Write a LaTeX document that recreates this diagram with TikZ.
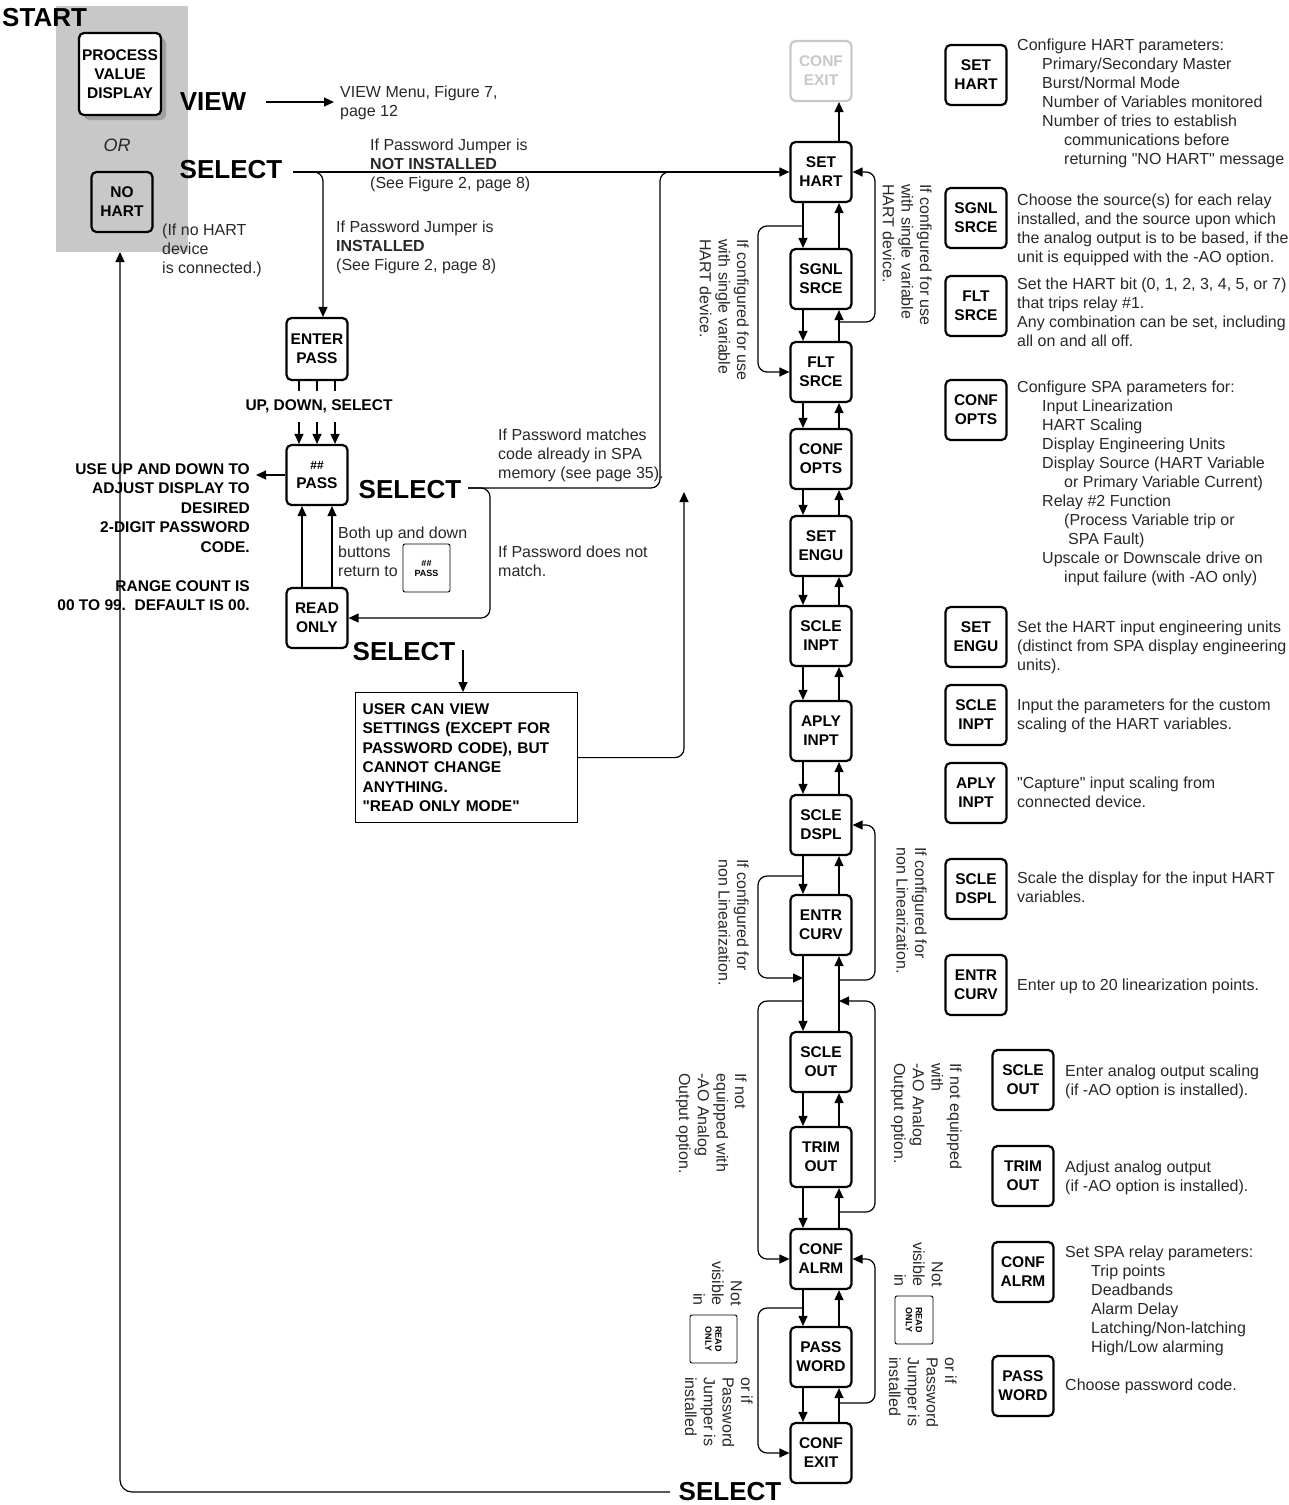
\documentclass[tikz,border=0pt]{standalone}
\usepackage{fontspec}
\setmainfont{Liberation Sans}
\usetikzlibrary{arrows.meta}
\definecolor{panelgray}{RGB}{200,200,200}
\definecolor{shadowgray}{RGB}{160,160,160}
\definecolor{txtgray}{RGB}{40,40,40}
\newcommand{\dq}{\textquotedbl}
\begin{document}
\begin{tikzpicture}[x=1pt,y=-1pt,
  >={Triangle[length=10pt,width=9pt]},
  conn/.style={line width=1.2pt},
  keybox/.style={draw,line width=2.2pt,rounded corners=5pt,minimum width=61pt,minimum height=60pt,inner sep=0pt,align=center,font=\fontsize{15.5}{19}\selectfont\bfseries},
  desc/.style={anchor=north west,inner sep=0pt,align=left,font=\fontsize{16}{19}\selectfont,text=txtgray},
  big/.style={inner sep=0pt,font=\fontsize{26}{30}\selectfont\bfseries},
  vnote/.style={rotate=-90,anchor=north west,inner sep=0pt,align=left,font=\fontsize{16}{18.7}\selectfont,text=txtgray},
  tiny/.style={draw,line width=0.9pt,rounded corners=2pt,inner sep=0pt,align=center,font=\fontsize{9}{10}\selectfont\bfseries},
  boldnote/.style={inner sep=0pt,font=\fontsize{15.5}{19.5}\selectfont\bfseries}
]
\useasboundingbox (0,0) rectangle (1289,1505);

% ---------- left start panel ----------
\node[fill=panelgray,anchor=north west,minimum width=132pt,minimum height=246pt,inner sep=0pt] (panel) at (56,6) {};
\node[big,anchor=west] (start) at (2,18) {START};
\fill[shadowgray,rounded corners=5pt] (84,38) rectangle (166,120);
\node[keybox,fill=white,minimum width=82pt,minimum height=82pt] (pvd) at (120,74) {PROCESS\\VALUE\\DISPLAY};
\node[font=\fontsize{18}{20}\selectfont\itshape,text=txtgray,inner sep=0pt] (or) at (117,145) {OR};
\node[keybox] (nohart) at (122,202) {NO\\HART};
\node[desc] (nohartnote) at (162,224) {(If no HART\\device\\is connected.)};

\node[big] (view) at (213,102) {VIEW};
\node[desc] (viewmenu) at (340,86) {VIEW Menu, Figure 7,\\page 12};
\draw[conn,->,shorten <=20pt,shorten >=6pt] (view.east) -- (viewmenu.west |- view.east);

\node[big] (sel1) at (231,170) {SELECT};
\node[desc] (ni) at (370,139) {If Password Jumper is\\\textbf{NOT INSTALLED}\\(See Figure 2, page 8)};
\node[desc] (inst) at (336,221) {If Password Jumper is\\\textbf{INSTALLED}\\(See Figure 2, page 8)};

% ---------- password section ----------
\node[keybox,minimum height=62pt] (enterpass) at (317,349) {ENTER\\PASS};
\node[boldnote] (uds) at (319,406) {UP, DOWN, SELECT};
\node[keybox] (pass) at (317,475) {{\fontsize{12}{14}\selectfont\#\#}\\PASS};
\node[keybox] (readonly) at (317,618) {READ\\ONLY};
\foreach \dx in {-18,0,18} {
  \draw[conn] ([xshift=\dx pt]enterpass.south) -- ++(0,10);
  \draw[conn,->] ([xshift=\dx pt]pass.north) ++(0,-22) -- ([xshift=\dx pt]pass.north);
}
\node[boldnote,anchor=north east,align=right] (usetext) at (250,463) {USE UP AND DOWN TO\\ADJUST DISPLAY TO\\DESIRED\\2-DIGIT PASSWORD\\CODE.\\[19.5pt]RANGE COUNT IS\\00 TO 99.\ \ DEFAULT IS 00.};
\draw[conn,->,shorten >=6pt] (pass.west) -- (usetext.east |- pass.west);

\node[big] (sel2) at (410,490) {SELECT};
\node[desc] (match) at (498,429) {If Password matches\\code already in SPA\\memory (see page 35).};
\node[desc] (nomatch) at (498,546) {If Password does not\\match.};
\node[desc] (both) at (338,527) {Both up and down\\buttons\\return to};
\node[tiny,minimum width=47pt,minimum height=48pt] (smallpass) at (426.5,568) {\#\#\\PASS};
\draw[conn,->] ([xshift=-15pt]readonly.north) -- ([xshift=-15pt]pass.south);
\draw[conn,->] ([xshift=15pt]readonly.north) -- ([xshift=15pt]pass.south);

\node[big] (sel3) at (404,652) {SELECT};
\node[draw,line width=1.2pt,anchor=north west,minimum width=222pt,minimum height=130pt,text width=208pt,inner xsep=7pt,align=left,font=\fontsize{15.5}{19.4}\selectfont\bfseries] (userbox) at (355,692) {USER CAN VIEW\\SETTINGS (EXCEPT FOR\\PASSWORD CODE), BUT\\CANNOT CHANGE\\ANYTHING.\\\dq READ ONLY MODE\dq};

\node[big] (sel4) at (730,1492) {SELECT};

% ---------- main column ----------
\node[keybox,draw=panelgray,text=panelgray] (m0) at (821,71) {CONF\\EXIT};
\node[keybox] (m1) at (821,172) {SET\\HART};
\node[keybox] (m2) at (821,279) {SGNL\\SRCE};
\node[keybox] (m3) at (821,372) {FLT\\SRCE};
\node[keybox] (m4) at (821,459) {CONF\\OPTS};
\node[keybox] (m5) at (821,546) {SET\\ENGU};
\node[keybox] (m6) at (821,636) {SCLE\\INPT};
\node[keybox] (m7) at (821,731) {APLY\\INPT};
\node[keybox] (m8) at (821,825) {SCLE\\DSPL};
\node[keybox] (m9) at (821,925) {ENTR\\CURV};
\node[keybox] (m10) at (821,1062) {SCLE\\OUT};
\node[keybox] (m11) at (821,1157) {TRIM\\OUT};
\node[keybox] (m12) at (821,1259) {CONF\\ALRM};
\node[keybox] (m13) at (821,1357) {PASS\\WORD};
\node[keybox] (m14) at (821,1453) {CONF\\EXIT};

\draw[conn,->] ([xshift=18pt]m1.north) -- ([xshift=18pt]m0.south);
\foreach \a/\b in {m1/m2,m2/m3,m3/m4,m4/m5,m5/m6,m6/m7,m7/m8,m8/m9,m9/m10,m10/m11,m11/m12,m12/m13,m13/m14} {
  \draw[conn,->] ([xshift=-18pt]\a.south) -- ([xshift=-18pt]\b.north);
  \draw[conn,->] ([xshift=18pt]\b.north) -- ([xshift=18pt]\a.south);
}

% entry connectors
\coordinate (s1) at (293,172);
\draw[conn,->] (s1) -- (m1.west);
\draw[conn,->,rounded corners=9pt] (s1) -- (323,172) -- ([xshift=6pt]enterpass.north);
\coordinate (s2) at (468,488);
\draw[conn,rounded corners=9pt] (s2) -- (660,488) -- (660,172) -- (700,172);
\draw[conn,->,rounded corners=9pt] (s2) -- (490,488) -- (490,618) -- (readonly.east);
\coordinate (s3) at (463,650);
\draw[conn,->] (s3) -- (s3 |- userbox.north);
\coordinate (upend) at (684,492);
\draw[conn,->,rounded corners=9pt] (userbox.east) -- (upend |- userbox.east) -- (upend);
\coordinate (s4) at (670,1492);
\coordinate (retend) at (120,252);
\draw[conn,->,rounded corners=12pt] (s4) -- (retend |- s4) -- (retend);

% bypass loops
\coordinate (l1) at (803,226);
\draw[conn,->,rounded corners=9pt] (l1) -- (758,226) -- (758,372) -- (m3.west);
\coordinate (r1) at (839,322);
\draw[conn,->,rounded corners=9pt] (r1) -- (875,322) -- (875,172) -- (m1.east);
\coordinate (l2) at (803,876);
\coordinate (l2e) at (803,978);
\draw[conn,->,rounded corners=9pt] (l2) -- (758,876) -- (758,978) -- (l2e);
\coordinate (r2) at (839,980);
\draw[conn,->,rounded corners=9pt] (r2) -- (875,980) -- (875,825) -- (m8.east);
\coordinate (l3) at (803,1001);
\draw[conn,->,rounded corners=9pt] (l3) -- (758,1001) -- (758,1259) -- (m12.west);
\coordinate (r3) at (839,1212);
\coordinate (r3e) at (839,1001);
\draw[conn,->,rounded corners=9pt] (r3) -- (875,1212) -- (875,1001) -- (r3e);
\coordinate (l4) at (803,1308);
\draw[conn,->,rounded corners=9pt] (l4) -- (758,1308) -- (758,1453) -- (m14.west);
\coordinate (r4) at (839,1403);
\draw[conn,->,rounded corners=9pt] (r4) -- (875,1403) -- (875,1259) -- (m12.east);

% rotated notes
\node[vnote] (n1) at (932,184) {If configured for use\\with single variable\\HART device.};
\node[vnote] (n2) at (749,239) {If configured for use\\with single variable\\HART device.};
\node[vnote] (n3) at (927,847) {If configured for\\non Linearization.};
\node[vnote] (n4) at (749,859) {If configured for\\non Linearization.};
\node[vnote] (n5) at (962,1063) {If not equipped\\with\\-AO Analog\\Output option.};
\node[vnote] (n6) at (747,1073) {If not\\equipped with\\-AO Analog\\Output option.};
\node[vnote,anchor=north east,align=right] (n7) at (943,1287) {Not\\visible\\in};
\node[tiny,rotate=-90,minimum width=48pt,minimum height=38pt] (ro1) at (914,1320) {READ\\ONLY};
\node[vnote] (n8) at (957,1357) {or if\\Password\\Jumper is\\installed};
\node[vnote,anchor=north east,align=right] (n9) at (742,1306) {Not\\visible\\in};
\node[tiny,rotate=-90,minimum width=48pt,minimum height=47pt] (ro2) at (713.5,1339) {READ\\ONLY};
\node[vnote] (n10) at (753,1377) {or if\\Password\\Jumper is\\installed};

% ---------- legend ----------
\node[keybox] (k1) at (976,75) {SET\\HART};
\node[desc] (d1) at (1017,39) {Configure HART parameters:\\\hspace*{25pt}Primary/Secondary Master\\\hspace*{25pt}Burst/Normal Mode\\\hspace*{25pt}Number of Variables monitored\\\hspace*{25pt}Number of tries to establish\\\hspace*{47pt}communications before\\\hspace*{47pt}returning \dq NO HART\dq{} message};
\node[keybox] (k2) at (976,218) {SGNL\\SRCE};
\node[desc] (d2) at (1017,194) {Choose the source(s) for each relay\\installed, and the source upon which\\the analog output is to be based, if the\\unit is equipped with the -AO option.};
\node[keybox] (k3) at (976,306) {FLT\\SRCE};
\node[desc] (d3) at (1017,278) {Set the HART bit (0, 1, 2, 3, 4, 5, or 7)\\that trips relay \#1.\\Any combination can be set, including\\all on and all off.};
\node[keybox] (k4) at (976,410) {CONF\\OPTS};
\node[desc] (d4) at (1017,381) {Configure SPA parameters for:\\\hspace*{25pt}Input Linearization\\\hspace*{25pt}HART Scaling\\\hspace*{25pt}Display Engineering Units\\\hspace*{25pt}Display Source (HART Variable\\\hspace*{47pt}or Primary Variable Current)\\\hspace*{25pt}Relay \#2 Function\\\hspace*{47pt}(Process Variable trip or\\\hspace*{51pt}SPA Fault)\\\hspace*{25pt}Upscale or Downscale drive on\\\hspace*{47pt}input failure (with -AO only)};
\node[keybox] (k5) at (976,637) {SET\\ENGU};
\node[desc] (d5) at (1017,621) {Set the HART input engineering units\\(distinct from SPA display engineering\\units).};
\node[keybox] (k6) at (976,715) {SCLE\\INPT};
\node[desc] (d6) at (1017,699) {Input the parameters for the custom\\scaling of the HART variables.};
\node[keybox] (k7) at (976,793) {APLY\\INPT};
\node[desc] (d7) at (1017,777) {\dq Capture\dq{} input scaling from\\connected device.};
\node[keybox] (k8) at (976,889) {SCLE\\DSPL};
\node[desc] (d8) at (1017,872) {Scale the display for the input HART\\variables.};
\node[keybox] (k9) at (976,985) {ENTR\\CURV};
\node[desc] (d9) at (1017,979) {Enter up to 20 linearization points.};
\node[keybox] (k10) at (1023,1080) {SCLE\\OUT};
\node[desc] (d10) at (1065,1065) {Enter analog output scaling\\(if -AO option is installed).};
\node[keybox] (k11) at (1023,1176) {TRIM\\OUT};
\node[desc] (d11) at (1065,1161) {Adjust analog output\\(if -AO option is installed).};
\node[keybox] (k12) at (1023,1272) {CONF\\ALRM};
\node[desc] (d12) at (1065,1246) {Set SPA relay parameters:\\\hspace*{26pt}Trip points\\\hspace*{26pt}Deadbands\\\hspace*{26pt}Alarm Delay\\\hspace*{26pt}Latching/Non-latching\\\hspace*{26pt}High/Low alarming};
\node[keybox] (k13) at (1023,1386) {PASS\\WORD};
\node[desc] (d13) at (1065,1379) {Choose password code.};
\end{tikzpicture}
\end{document}
